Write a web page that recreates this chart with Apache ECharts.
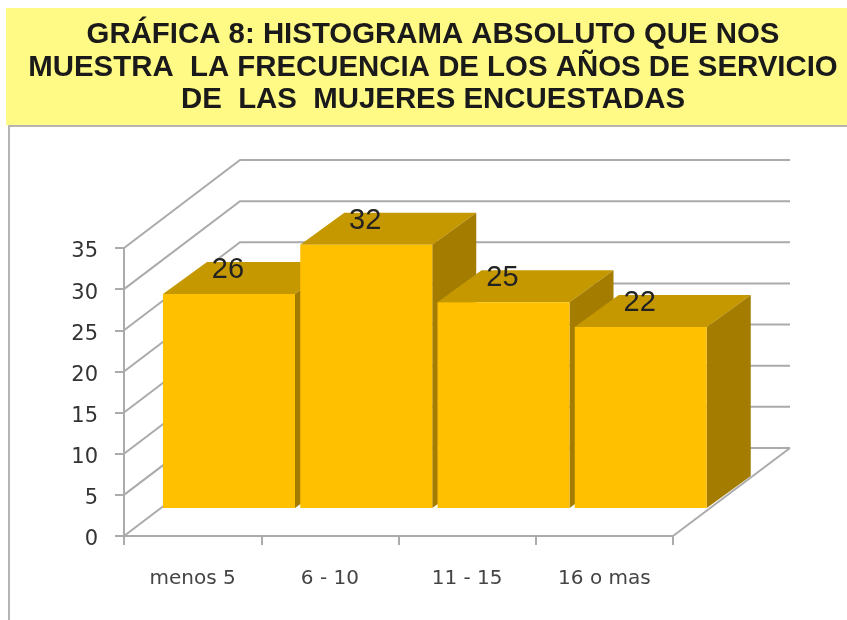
<!DOCTYPE html>
<html>
<head>
<meta charset="utf-8">
<title>Gráfica 8</title>
<style>
html, body { margin: 0; padding: 0; background: #fff; }
#chart { width: 847px; height: 620px; }
</style>
<script src="https://cdn.jsdelivr.net/npm/echarts@6/dist/echarts.min.js"></script>
</head>
<body>
<div id="chart"></div>
<script>
var titleLines = [
	'GRÁFICA 8: HISTOGRAMA ABSOLUTO QUE NOS',
	'MUESTRA  LA FRECUENCIA DE LOS AÑOS DE SERVICIO',
	'DE  LAS  MUJERES ENCUESTADAS'
];
var categories = ['menos 5', '6 - 10', '11 - 15', '16 o mas'];
var values = [26, 32, 25, 22];
var yTicks = [0, 5, 10, 15, 20, 25, 30, 35];

// fake 3d offsets, in px
var wallDx = 116, wallDy = 88;
var baseDx = 39, baseDy = 28;
var barW = 132;
var barDx = 44, barDy = 32;
var gridColor = '#ababab';

function renderWall(params, api) {
	var cs = params.coordSys;
	var y = api.coord([0, api.value(1)])[1];
	var x0 = cs.x, x1 = cs.x + cs.width;
	var children = [{
		type: 'polyline',
		shape: { points: [[x0, y], [x0 + wallDx, y - wallDy], [x1 + wallDx + 1, y - wallDy]] },
		style: { fill: null, stroke: gridColor, lineWidth: 2 }
	}];
	if (api.value(1) === 0) {
		children.push({
			type: 'line',
			shape: { x1: x1, y1: y, x2: x1 + wallDx + 1, y2: y - wallDy },
			style: { stroke: gridColor, lineWidth: 2 }
		});
	}
	return { type: 'group', children: children };
}

function renderBar(params, api) {
	var p = api.coord([api.value(0), api.value(1)]);
	var p0 = api.coord([api.value(0), 0]);
	var band = api.size([1, 0])[0];
	var l = p[0] - band / 2 + baseDx, r = l + barW;
	var t = p[1] - baseDy, b = p0[1] - baseDy;
	return {
		type: 'group',
		children: [{
			type: 'polygon',
			shape: { points: [[l, t], [l + barDx, t - barDy], [r + barDx, t - barDy], [r, t]] },
			style: { fill: '#c69800' }
		}, {
			type: 'polygon',
			shape: { points: [[r, t], [r + barDx, t - barDy], [r + barDx, b - barDy], [r, b]] },
			style: { fill: '#a47d00' }
		}, {
			type: 'rect',
			shape: { x: l, y: t, width: barW, height: b - t },
			style: { fill: '#ffc000' }
		}]
	};
}

function renderLabel(params, api) {
	var p = api.coord([api.value(0), api.value(1)]);
	var band = api.size([1, 0])[0];
	return {
		type: 'text',
		style: {
			x: p[0] - band / 2 + 104,
			y: p[1] - baseDy - 24,
			text: String(api.value(1)),
			font: '29px "Liberation Sans"',
			fill: '#222',
			textAlign: 'center',
			textVerticalAlign: 'middle'
		}
	};
}

var barData = values.map(function(v, i) {
	return [i, v];
});
var wallData = yTicks.map(function(v) {
	return [0, v];
});

var myChart = echarts.init(document.getElementById('chart'));
var option = {
	animation: false,
	backgroundColor: '#fff',
	graphic: [{
		type: 'rect',
		z: -1,
		shape: { x: 6, y: 8, width: 841, height: 117 },
		style: { fill: '#fff985' }
	}, {
		type: 'polyline',
		z: -1,
		shape: { points: [[9, 620], [9, 126], [847, 126]] },
		style: { fill: null, stroke: '#b4b4b4', lineWidth: 2 }
	}],
	title: {
		text: titleLines.join('\n'),
		left: 428,
		top: 14,
		textAlign: 'center',
		textStyle: {
			fontFamily: 'Liberation Sans',
			fontWeight: 'bold',
			fontSize: 29.4,
			lineHeight: 32.5,
			color: '#1a1a1a'
		}
	},
	grid: { left: 124, top: 248, width: 549, height: 288 },
	xAxis: {
		type: 'category',
		data: categories,
		axisLine: { lineStyle: { color: gridColor, width: 2 } },
		axisTick: { show: true, length: 9, lineStyle: { color: gridColor, width: 2 } },
		axisLabel: {
			fontFamily: 'DejaVu Sans',
			fontSize: 20,
			color: '#444',
			margin: 33
		}
	},
	yAxis: {
		type: 'value',
		min: 0,
		max: 35,
		interval: 5,
		splitLine: { show: false },
		axisLine: { show: true, lineStyle: { color: gridColor, width: 2 } },
		axisTick: { show: true, length: 9, lineStyle: { color: gridColor, width: 2 } },
		axisLabel: {
			margin: 26,
			formatter: '{a|{value}}',
			rich: {
				a: {
					fontFamily: 'DejaVu Sans',
					fontSize: 21,
					color: '#333',
					padding: [8, 0, 0, 0]
				}
			}
		}
	},
	series: [{
		type: 'custom',
		name: 'walls',
		renderItem: renderWall,
		data: wallData,
		clip: false,
		silent: true,
		z: 1
	}, {
		type: 'custom',
		name: 'bars',
		renderItem: renderBar,
		data: barData,
		clip: false,
		z: 2
	}, {
		type: 'custom',
		name: 'labels',
		renderItem: renderLabel,
		data: barData,
		clip: false,
		z: 3
	}]
};
myChart.setOption(option);
</script>
</body>
</html>
